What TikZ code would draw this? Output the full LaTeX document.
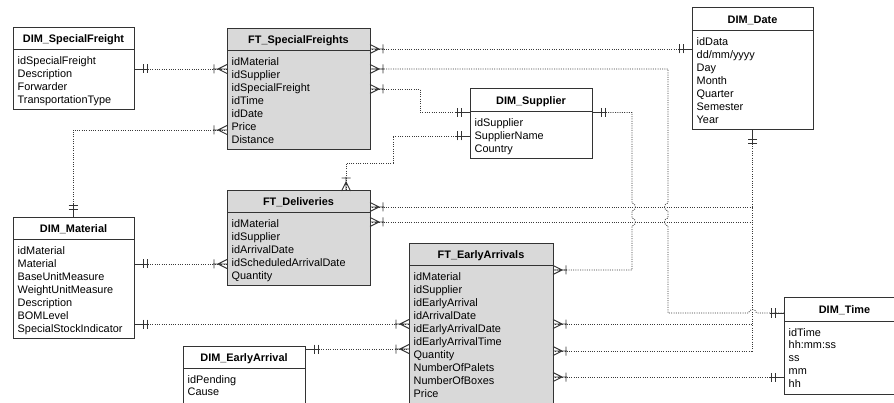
\documentclass[tikz,border=0pt]{standalone}
\usepackage{fontspec}
\setmainfont{Liberation Sans}
\usetikzlibrary{calc}
\definecolor{ftfill}{HTML}{D9D9D9}
\definecolor{linec}{HTML}{333333}
\definecolor{connc}{HTML}{3A3A3A}
\tikzset{
  entbox/.style={draw=linec, line width=1pt, rectangle, inner sep=0pt, outer sep=0pt},
  hdrline/.style={draw=linec, line width=1pt},
  ttl/.style={font=\fontsize{10.9}{12.9}\selectfont\bfseries, inner sep=0pt, anchor=base, text=black},
  rowt/.style={font=\fontsize{10.9}{12.9}\selectfont, inner sep=0pt, anchor=base west, text=black},
  conn/.style={draw=connc, line width=0.8pt, dash pattern=on 1pt off 1.3pt},
  symline/.style={draw=linec, line width=0.9pt, solid},
  erone/.pic={\draw[symline] (0,0) -- (14,0) (9,-4.5) -- (9,4.5) (13,-4.5) -- (13,4.5);},
  ermany/.pic={\draw[symline] (0,-4.5) -- (9,0) -- (0,4.5) (0,0) -- (14,0) (13,-4.5) -- (13,4.5);},
}
\newcommand{\erent}[9]{%
  \node[entbox, fill=#7, minimum width={(#4)-(#2)}, minimum height={(#5)-(#3)}, anchor=north west] (#1) at (#2,#3) {};
  \draw[hdrline] (#2,#6) -- (#4,#6);
  \node[ttl] (#1-t) at ({(#2+#4)/2}, {(#3+#6)/2+4}) {#8};
  \foreach \r [count=\i from 0] in {#9} {
    \node[rowt] (#1-r\i) at ({#2+4.5}, {#6+15+12.9*\i}) {\r};
  }
}
\begin{document}
\begin{tikzpicture}[x=1pt, y=-1pt]
\useasboundingbox (0,0) rectangle (894,403);
\fill[white] (0,0) rectangle (894,403);
\clip (0,0) rectangle (894,403);

% entities
\erent{dsf}{13}{28}{134}{110}{50}{white}{DIM\_SpecialFreight}{idSpecialFreight,Description,Forwarder,TransportationType}
\erent{ftsf}{227}{29}{370}{150}{51}{ftfill}{FT\_SpecialFreights}{idMaterial,idSupplier,idSpecialFreight,idTime,idDate,Price,Distance}
\erent{dd}{692}{8}{813}{130}{31}{white}{DIM\_Date}{idData,dd/mm/yyyy,Day,Month,Quarter,Semester,Year}
\erent{ds}{470}{89}{592}{159}{112}{white}{DIM\_Supplier}{idSupplier,SupplierName,Country}
\erent{ftd}{227}{191}{370}{286}{213}{ftfill}{FT\_Deliveries}{idMaterial,idSupplier,idArrivalDate,idScheduledArrivalDate,Quantity}
\erent{dm}{13}{218}{134}{338}{240}{white}{DIM\_Material}{idMaterial,Material,BaseUnitMeasure,WeightUnitMeasure,Description,BOMLevel,SpecialStockIndicator}
\erent{fte}{409}{244}{553}{412}{266}{ftfill}{FT\_EarlyArrivals}{idMaterial,idSupplier,idEarlyArrival,idArrivalDate,idEarlyArrivalDate,idEarlyArrivalTime,Quantity,NumberOfPalets,NumberOfBoxes,Price}
\erent{dt}{784}{298}{905}{394}{321}{white}{DIM\_Time}{idTime,hh:mm:ss,ss,mm,hh}
\erent{dea}{183}{346}{305}{412}{368}{white}{DIM\_EarlyArrival}{idPending,Cause}

% 1 DIM_SpecialFreight -> FT_SpecialFreights
\draw[conn] (dsf.east |- 0,69) -- (ftsf.west |- 0,69);
\pic at (dsf.east |- 0,69) {erone};
\pic[rotate=180] at (ftsf.west |- 0,69) {ermany};

% 2 FT_SpecialFreights -> DIM_Date
\draw[conn] (ftsf.east |- 0,49) -- (dd.west |- 0,49);
\pic at (ftsf.east |- 0,49) {ermany};
\pic[rotate=180] at (dd.west |- 0,49) {erone};

% 3 FT_SpecialFreights -> DIM_Time
\draw[conn] (ftsf.east |- 0,69) -- (668,69) -- (668,203)
  .. controls (663.5,203) and (663.5,211) .. (668,211) -- (668,218)
  .. controls (663.5,218) and (663.5,226) .. (668,226) -- (668,313) -- (748.5,313)
  .. controls (748.5,308.5) and (756.5,308.5) .. (756.5,313) -- (dt.west |- 0,313);
\pic at (ftsf.east |- 0,69) {ermany};
\pic[rotate=180] at (dt.west |- 0,313) {erone};

% 4 FT_SpecialFreights -> DIM_Supplier
\draw[conn] (ftsf.east |- 0,89) -- (420,89) -- (420,112.5) -- (ds.west |- 0,112.5);
\pic at (ftsf.east |- 0,89) {ermany};
\pic[rotate=180] at (ds.west |- 0,112.5) {erone};

% 5 DIM_Supplier -> FT_Deliveries
\draw[conn] (ds.west |- 0,136) -- (393,136) -- (393,163) -- (346,163) -- (ftd.north -| 346,0);
\pic[rotate=180] at (ds.west |- 0,136) {erone};
\pic[rotate=90] at (ftd.north -| 346,0) {ermany};

% 6 DIM_Supplier -> FT_EarlyArrivals
\draw[conn] (ds.east |- 0,112.5) -- (632,112.5) -- (632,203)
  .. controls (636.5,203) and (636.5,211) .. (632,211) -- (632,218)
  .. controls (636.5,218) and (636.5,226) .. (632,226) -- (632,270) -- (fte.east |- 0,270);
\pic at (ds.east |- 0,112.5) {erone};
\pic at (fte.east |- 0,270) {ermany};

% 7 DIM_Material -> FT_SpecialFreights
\draw[conn] (dm.north -| 73,0) -- (73,130) -- (ftsf.west |- 0,130);
\pic[rotate=90] at (dm.north -| 73,0) {erone};
\pic[rotate=180] at (ftsf.west |- 0,130) {ermany};

% 8 DIM_Material -> FT_Deliveries
\draw[conn] (dm.east |- 0,264) -- (ftd.west |- 0,264);
\pic at (dm.east |- 0,264) {erone};
\pic[rotate=180] at (ftd.west |- 0,264) {ermany};

% 9 DIM_Material -> FT_EarlyArrivals
\draw[conn] (dm.east |- 0,324) -- (fte.west |- 0,324);
\pic at (dm.east |- 0,324) {erone};
\pic[rotate=180] at (fte.west |- 0,324) {ermany};

% 10 DIM_EarlyArrival -> FT_EarlyArrivals
\draw[conn] (dea.east |- 0,349) -- (fte.west |- 0,349);
\pic at (dea.east |- 0,349) {erone};
\pic[rotate=180] at (fte.west |- 0,349) {ermany};

% 11 DIM_Date bus
\draw[conn] (dd.south) -- (dd.south |- 0,351);
\pic[rotate=-90] at (dd.south) {erone};
\draw[conn] (ftd.east |- 0,207) -- (dd.south |- 0,207);
\pic at (ftd.east |- 0,207) {ermany};
\draw[conn] (ftd.east |- 0,222) -- (dd.south |- 0,222);
\pic at (ftd.east |- 0,222) {ermany};
\draw[conn] (fte.east |- 0,324) -- (dd.south |- 0,324);
\pic at (fte.east |- 0,324) {ermany};
\draw[conn] (fte.east |- 0,351) -- (dd.south |- 0,351);
\pic at (fte.east |- 0,351) {ermany};

% 16 FT_EarlyArrivals -> DIM_Time
\draw[conn] (fte.east |- 0,377) -- (dt.west |- 0,377);
\pic at (fte.east |- 0,377) {ermany};
\pic[rotate=180] at (dt.west |- 0,377) {erone};
\end{tikzpicture}
\end{document}
